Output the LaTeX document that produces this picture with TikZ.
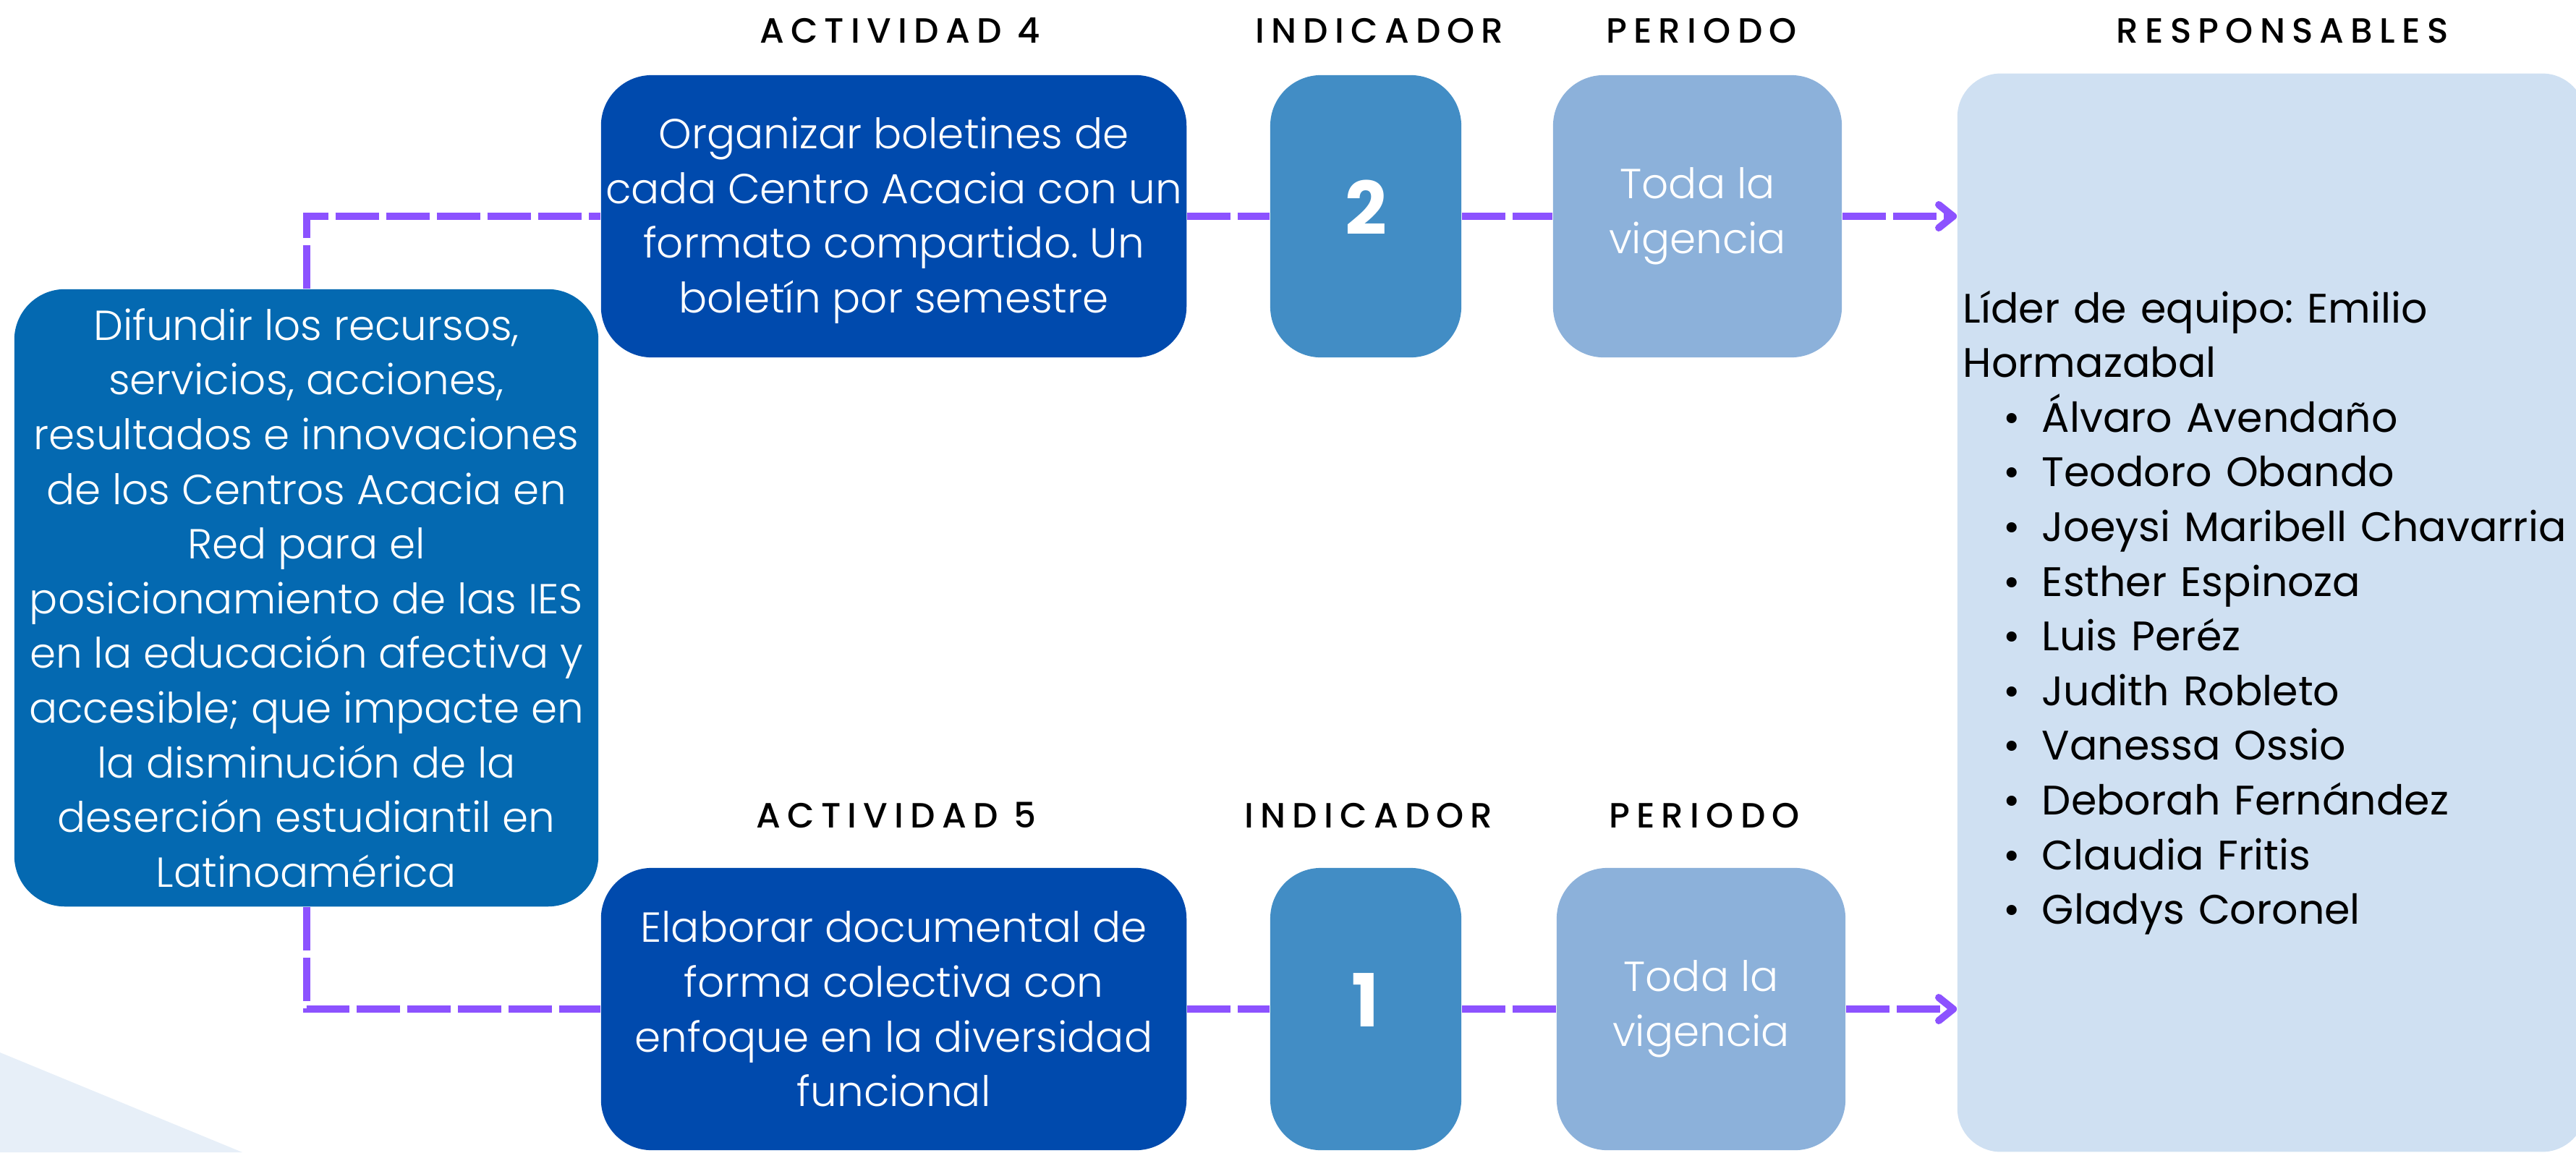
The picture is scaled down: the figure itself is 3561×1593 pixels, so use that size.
\documentclass[tikz,border=0pt]{standalone}
\usepackage{fontspec}
\setmainfont{Poppins}
\IfFontExistsTF{Poppins Light}{\newfontfamily\bodyfont{Poppins Light}}{\newfontfamily\bodyfont{Poppins}}
\IfFontExistsTF{Poppins Medium}{\newfontfamily\hdrfont{Poppins Medium}[LetterSpace=19]}{\newfontfamily\hdrfont{Poppins}[LetterSpace=19]}
\usetikzlibrary{arrows.meta}
\definecolor{goalc}{RGB}{4,105,177}
\definecolor{actc}{RGB}{0,74,173}
\definecolor{indc}{RGB}{66,141,197}
\definecolor{perc}{RGB}{140,177,218}
\definecolor{respc}{RGB}{207,224,242}
\definecolor{linkc}{RGB}{140,82,255}
\definecolor{swooshc}{RGB}{231,239,248}
\newcommand\ritem[1]{\hspace*{1.09cm}\llap{\textbullet\hspace{0.3cm}}\mbox{#1}}
\frenchspacing
\begin{document}
\begin{tikzpicture}[x=0.01cm,y=-0.01cm,
  box/.style={rounded corners=0.7cm, inner sep=0pt, text=white, align=center,
    minimum height=3.9cm, font=\bodyfont\fontsize{16.5}{21.5}\selectfont},
  numbox/.style={box, fill=indc, minimum width=2.64cm, text depth=0.24cm,
    font=\normalfont\bfseries\fontsize{28.8}{30}\selectfont},
  hdr/.style={anchor=base, inner sep=0pt, font=\hdrfont\fontsize{13.8}{16}\selectfont},
  link/.style={draw=linkc, line width=0.1cm, dash pattern=on 0.6cm off 0.1cm},
  tip/.style={-{Straight Barb[round, length=0.2cm, width=0.32cm]}}
]
\useasboundingbox (0,0) rectangle (3561,1593);
\clip (0,0) rectangle (3561,1593);
\fill[swooshc] (0,1455) -- (335,1593) -- (0,1593) -- cycle;

% boxes
\node[box, fill=goalc, minimum width=8.07cm, minimum height=8.53cm] (goal) at (423.5,826.5)
  {Difundir los recursos,\\servicios, acciones,\\resultados e innovaciones\\de los Centros Acacia en\\Red para el\\posicionamiento de las IES\\en la educación afectiva y\\accesible; que impacte en\\la disminución de la\\deserción estudiantil en\\Latinoamérica};
\node[box, fill=actc, minimum width=8.09cm] (act4) at (1235.5,299)
  {\rule{0pt}{0.55cm}Organizar boletines de\\cada Centro Acacia con un\\formato compartido. Un\\boletín por semestre};
\node[numbox] (ind4) at (1888,299) {2};
\node[box, fill=perc, minimum width=3.99cm] (per4) at (2346.5,299) {Toda la\\vigencia};

\node[box, fill=actc, minimum width=8.09cm] (act5) at (1235.5,1395)
  {Elaborar documental de\\forma colectiva con\\enfoque en la diversidad\\funcional};
\node[numbox] (ind5) at (1888,1395) {1};
\node[box, fill=perc, minimum width=3.99cm] (per5) at (2351.5,1395) {Toda la\\vigencia};

\node[fill=respc, rounded corners=0.6cm, minimum width=8.68cm, minimum height=14.9cm,
  inner xsep=0.08cm, inner ysep=0pt, text width=8.52cm, align=left, text=black,
  font=\normalfont\fontsize{16.2}{21.5}\selectfont] (resp) at (3140,847)
  {Líder de equipo: Emilio\\Hormazabal\\
   \ritem{Álvaro Avendaño}\\
   \ritem{Teodoro Obando}\\
   \ritem{Joeysi Maribell Chavarria}\\
   \ritem{Esther Espinoza}\\
   \ritem{Luis Peréz}\\
   \ritem{Judith Robleto}\\
   \ritem{Vanessa Ossio}\\
   \ritem{Deborah Fernández}\\
   \ritem{Claudia Fritis}\\
   \ritem{Gladys Coronel}};

% headers
\node[hdr] (h1) at (1244,59) {ACTIVIDAD 4};
\node[hdr] (h2) at (1907,59) {INDICADOR};
\node[hdr] (h3) at (2352,59) {PERIODO};
\node[hdr] (h4) at (3155,59) {RESPONSABLES};
\node[hdr] (h5) at (1239,1144) {ACTIVIDAD 5};
\node[hdr] (h6) at (1892,1144) {INDICADOR};
\node[hdr] (h7) at (2356,1144) {PERIODO};

% connectors
\draw[link] (goal.north) |- (act4.west);
\draw[link] (act4.east) -- (ind4.west);
\draw[link] (ind4.east) -- (per4.west);
\draw[link, tip] (per4.east) -- (per4.east -| resp.west);

\draw[link] (goal.south) |- (act5.west);
\draw[link] (act5.east) -- (ind5.west);
\draw[link] (ind5.east) -- (per5.west);
\draw[link, tip] (per5.east) -- (per5.east -| resp.west);
\end{tikzpicture}
\end{document}
